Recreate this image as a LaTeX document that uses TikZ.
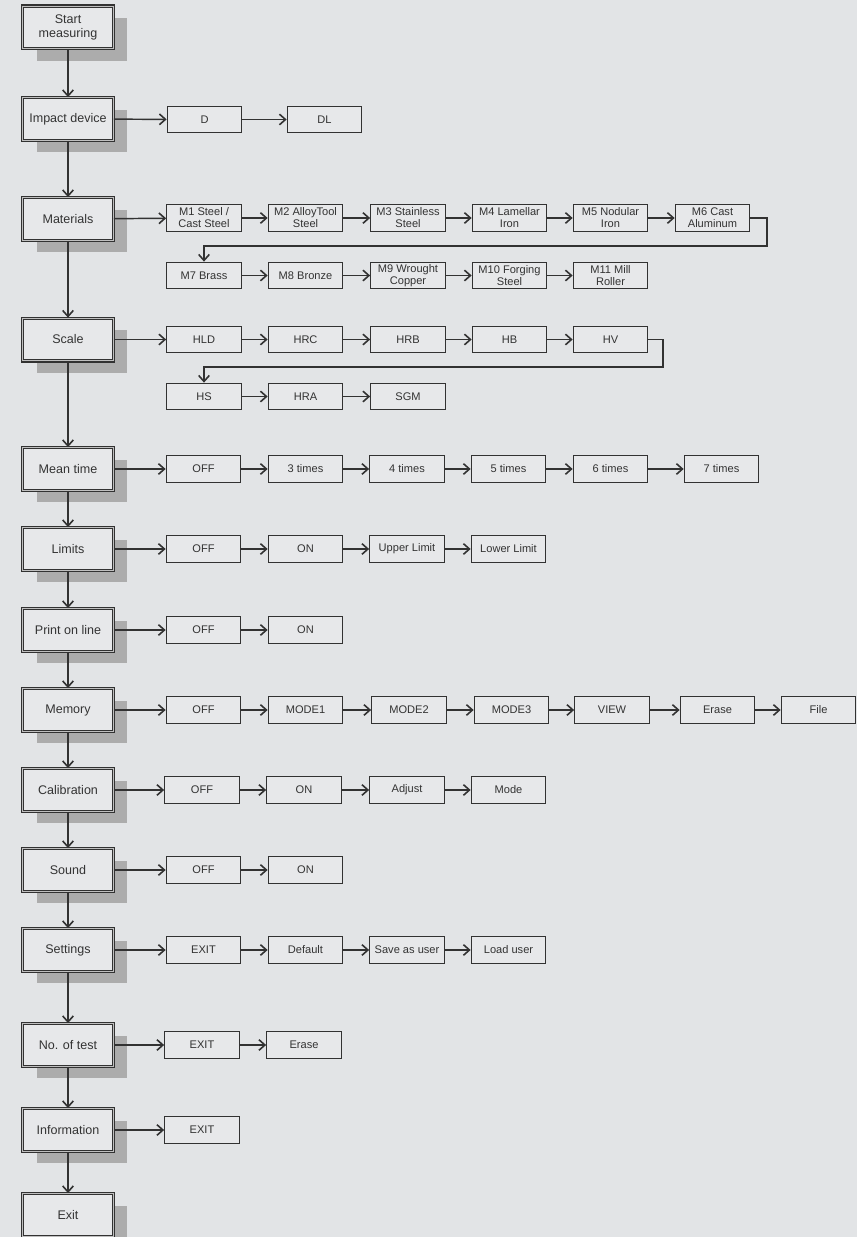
\documentclass[tikz,border=0pt]{standalone}
\usepackage{fontspec}
\setmainfont{Liberation Sans}
\usetikzlibrary{arrows.meta,shadows}
\definecolor{bgc}{RGB}{226,228,230}
\definecolor{boxc}{RGB}{231,232,234}
\definecolor{shadowc}{RGB}{172,172,172}
\definecolor{linec}{RGB}{50,50,50}
\tikzset{
  mainbox/.style={draw=linec, line width=0.8pt, double=gray!50, double distance=0.9pt,
    fill=boxc, minimum width=68pt, minimum height=32pt, inner sep=1pt, align=center,
    font=\fontsize{9.4}{11}\selectfont, text=black!80,
    general shadow={fill=shadowc, shadow xshift=10.5pt, shadow yshift=-9pt}},
  subbox/.style={draw=linec, line width=0.8pt, fill=boxc, minimum width=56pt,
    minimum height=20pt, inner sep=1pt, align=center, font=\fontsize{8.3}{9}\selectfont, text=black!80},
  conn/.style={draw=linec, line width=1.1pt, -{Straight Barb[length=4.5pt,width=8pt,line width=1.2pt]}},
}
\begin{document}
\begin{tikzpicture}[x=0.75pt,y=-0.75pt]
\useasboundingbox (0,0) rectangle (857,1237);
\fill[bgc] (0,0) rectangle (857,1237);
% main column
\node[mainbox] (start) at (68,27.5) {Start\\measuring};
\node[mainbox] (impact) at (68,119) {Impact device};
\node[mainbox] (mat) at (68,219) {Materials};
\node[mainbox] (scale) at (68,339.5) {Scale};
\node[mainbox] (mean) at (68,469) {Mean time};
\node[mainbox] (lim) at (68,549) {Limits};
\node[mainbox] (print) at (68,630) {Print on line};
\node[mainbox] (mem) at (68,710) {Memory};
\node[mainbox] (cal) at (68,790) {Calibration};
\node[mainbox] (sound) at (68,870) {Sound};
\node[mainbox] (set) at (68,950) {Settings};
\node[mainbox] (ntest) at (68,1045) {No. of test};
\node[mainbox] (info) at (68,1130) {Information};
\node[mainbox] (exit) at (68,1215) {Exit};
\foreach \a/\b in {start/impact,impact/mat,mat/scale,scale/mean,mean/lim,lim/print,print/mem,mem/cal,cal/sound,sound/set,set/ntest,ntest/info,info/exit}
  \draw[conn] (\a) -- (\b);
% impact device
\node[subbox] (d) at (204.5,119.5) {D};
\node[subbox] (dl) at (324.5,119.5) {DL};
\draw[conn] (impact) -- (d); \draw[conn] (d) -- (dl);
% materials
\node[subbox] (m1) at (204,218) {M1 Steel /\\Cast Steel};
\node[subbox] (m2) at (305.5,218) {M2 AlloyTool\\Steel};
\node[subbox] (m3) at (408,218) {M3 Stainless\\Steel};
\node[subbox] (m4) at (509.5,218) {M4 Lamellar\\Iron};
\node[subbox] (m5) at (610.5,218) {M5 Nodular\\Iron};
\node[subbox] (m6) at (712.5,218) {M6 Cast\\Aluminum};
\node[subbox] (m7) at (204,275.5) {M7 Brass};
\node[subbox] (m8) at (305.5,275.5) {M8 Bronze};
\node[subbox] (m9) at (408,275.5) {M9 Wrought\\Copper};
\node[subbox] (m10) at (509.5,275.5) {M10 Forging\\Steel};
\node[subbox] (m11) at (610.5,275.5) {M11 Mill\\Roller};
\draw[conn] (mat) -- (m1);
\foreach \a/\b in {m1/m2,m2/m3,m3/m4,m4/m5,m5/m6,m7/m8,m8/m9,m9/m10,m10/m11}
  \draw[conn] (\a) -- (\b);
\draw[conn] (m6.east) -- (767,218) -- (767,246) -- (204,246) -- (m7.north);
% scale
\node[subbox] (hld) at (204,339.5) {HLD};
\node[subbox] (hrc) at (305.5,339.5) {HRC};
\node[subbox] (hrb) at (408,339.5) {HRB};
\node[subbox] (hb) at (509.5,339.5) {HB};
\node[subbox] (hv) at (610.5,339.5) {HV};
\node[subbox] (hs) at (204,396.5) {HS};
\node[subbox] (hra) at (305.5,396.5) {HRA};
\node[subbox] (sgm) at (408,396.5) {SGM};
\draw[conn] (scale) -- (hld);
\foreach \a/\b in {hld/hrc,hrc/hrb,hrb/hb,hb/hv,hs/hra,hra/sgm}
  \draw[conn] (\a) -- (\b);
\draw[conn] (hv.east) -- (663,339.5) -- (663,367) -- (204,367) -- (hs.north);
% mean time
\node[subbox] (mt1) at (203.5,469) {OFF};
\node[subbox] (mt2) at (305.5,469) {3 times};
\node[subbox] (mt3) at (407,469) {4 times};
\node[subbox] (mt4) at (508.5,469) {5 times};
\node[subbox] (mt5) at (610.5,469) {6 times};
\node[subbox] (mt6) at (721.5,469) {7 times};
\draw[conn] (mean) -- (mt1);
\foreach \a/\b in {mt1/mt2,mt2/mt3,mt3/mt4,mt4/mt5,mt5/mt6}
  \draw[conn] (\a) -- (\b);
% limits
\node[subbox] (l1) at (203.5,549) {OFF};
\node[subbox] (l2) at (305.5,549) {ON};
\node[subbox] (l3) at (407,549) {Upper Limit};
\node[subbox] (l4) at (508.5,549) {Lower Limit};
\draw[conn] (lim) -- (l1);
\foreach \a/\b in {l1/l2,l2/l3,l3/l4}
  \draw[conn] (\a) -- (\b);
% print on line
\node[subbox] (p1) at (203.5,630) {OFF};
\node[subbox] (p2) at (305.5,630) {ON};
\draw[conn] (print) -- (p1); \draw[conn] (p1) -- (p2);
% memory
\node[subbox] (me1) at (203.5,710) {OFF};
\node[subbox] (me2) at (305.5,710) {MODE1};
\node[subbox] (me3) at (409,710) {MODE2};
\node[subbox] (me4) at (511.5,710) {MODE3};
\node[subbox] (me5) at (612,710) {VIEW};
\node[subbox] (me6) at (717.5,710) {Erase};
\node[subbox] (me7) at (818.5,710) {File};
\draw[conn] (mem) -- (me1);
\foreach \a/\b in {me1/me2,me2/me3,me3/me4,me4/me5,me5/me6,me6/me7}
  \draw[conn] (\a) -- (\b);
% calibration
\node[subbox] (c1) at (202,790) {OFF};
\node[subbox] (c2) at (304,790) {ON};
\node[subbox] (c3) at (407,790) {Adjust};
\node[subbox] (c4) at (508.5,790) {Mode};
\draw[conn] (cal) -- (c1);
\foreach \a/\b in {c1/c2,c2/c3,c3/c4}
  \draw[conn] (\a) -- (\b);
% sound
\node[subbox] (s1) at (203.5,870) {OFF};
\node[subbox] (s2) at (305.5,870) {ON};
\draw[conn] (sound) -- (s1); \draw[conn] (s1) -- (s2);
% settings
\node[subbox] (st1) at (203.5,950) {EXIT};
\node[subbox] (st2) at (305.5,950) {Default};
\node[subbox] (st3) at (407,950) {Save as user};
\node[subbox] (st4) at (508.5,950) {Load user};
\draw[conn] (set) -- (st1);
\foreach \a/\b in {st1/st2,st2/st3,st3/st4}
  \draw[conn] (\a) -- (\b);
% no. of test
\node[subbox] (n1) at (202,1045) {EXIT};
\node[subbox] (n2) at (304,1045) {Erase};
\draw[conn] (ntest) -- (n1); \draw[conn] (n1) -- (n2);
% information
\node[subbox] (i1) at (202,1130) {EXIT};
\draw[conn] (info) -- (i1);
\end{tikzpicture}
\end{document}
